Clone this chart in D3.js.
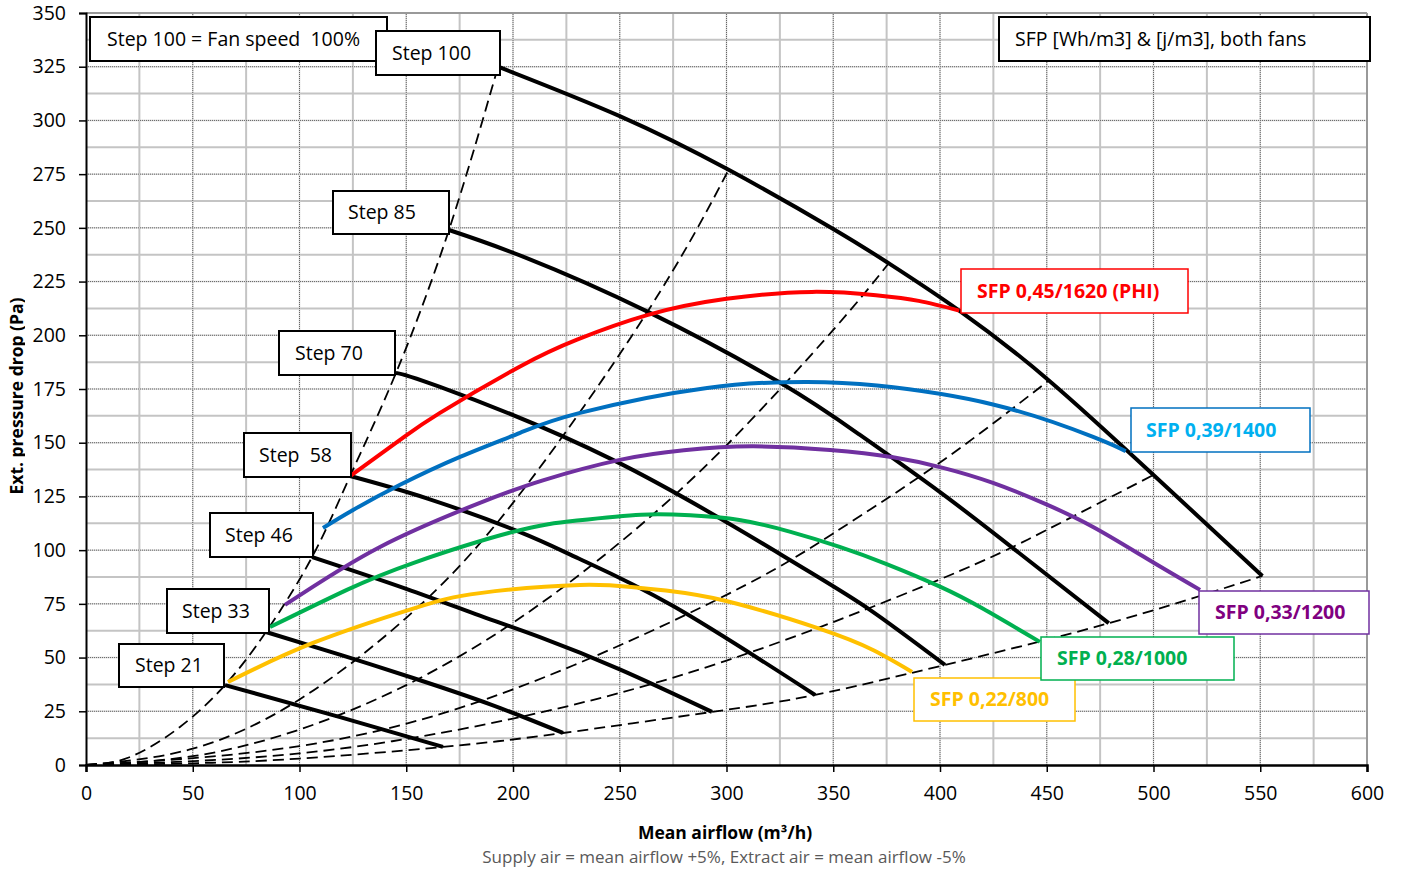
<!DOCTYPE html>
<html><head><meta charset="utf-8">
<script src="https://cdn.jsdelivr.net/npm/d3@7"></script>
<style>
html,body{margin:0;padding:0;background:#fff;}
svg{display:block;font-family:"Open Sans","Noto Sans",sans-serif;}
</style></head>
<body>
<svg id="chart" width="1401" height="872"></svg>
<script>
// ---------- data ----------
const xTicks = [0,50,100,150,200,250,300,350,400,450,500,550,600];
const yTicks = [0,25,50,75,100,125,150,175,200,225,250,275,300,325,350];

// fan curves (mean airflow m3/h, pressure Pa)
const step100 = [[193,325],[250,302],[301,277],[350,249.5],[376,233.5],[409,211.5],[451,179],[500,135],[551,88]];
const step85  = [[170,249],[205,236.5],[263,211],[325,178],[362,154],[400,127],[436,99.5],[479,66]];
const step70  = [[145.2,182.5],[165.8,176],[246.8,142],[329.7,95.4],[367.2,72.2],[402.3,46.6]];
const step58  = [[123.7,134.5],[160,124],[203,108.5],[231,96],[275,74],[341.5,32.6]];
const step46  = [[105.9,96.8],[150,82],[184.5,69.5],[212.6,59.5],[250,44.5],[293.2,24.7]];
const step33  = [[84.3,61.9],[120,51],[153.2,40.5],[190,28],[223.4,14.9]];
const step21  = [[65.1,37.2],[119,22.3],[167.2,8.4]];

// system (duct) curves, dashed
const sys1 = [[0,0],[20,3.5],[44,17.7],[65.1,37.2],[84.3,61.9],[105.9,96.8],[123.7,134.5],[145.2,182.5],[170,249],[193,325]];
const sys2 = [[0,0],[50,7.6],[100,30.5],[150,68.5],[200,122],[263,211],[301,277]];
const sys3 = [[0,0],[50,4.1],[100,16.5],[150,37.2],[200,66.2],[250,103.5],[300,148.8],[350,202.5],[376,233.5]];
const sys4 = [[0,0],[100,8.8],[200,35.2],[300,79.2],[350,107.8],[400,140.8],[451,179]];
const sys5 = [[0,0],[100,5.4],[200,21.6],[300,48.6],[400,86.4],[450,109.4],[500,135]];
const sys6 = [[0,0],[50,0.8],[100,3],[167.2,8.4],[223.4,14.9],[293.2,24.7],[341.5,32.6],[402.3,46.6],[479,66],[551,88]];

// SFP iso-lines
const sfp045 = [[123.7,134.5],[147.1,151.3],[165.8,163.9],[203.3,185.5],[230,198],[263.2,209.5],[300,217],[340,220.2],[370,218.6],[390,216],[409,211.5]];
const sfp039 = [[111,110.3],[125.1,118.7],[147.1,130.4],[175.2,143.4],[203.3,154.6],[231.4,163.9],[290.9,175.5],[337.7,178.3],[370.5,176.6],[424.8,167.8],[471.7,152.7],[487,146]];
const sfp033 = [[93.2,74.5],[137.7,101.5],[184.5,122],[214,132.5],[250,142],[280,146.5],[312,148.3],[348.5,146.6],[378,143.2],[401.4,138.3],[424.8,131.3],[448.2,122],[471.7,110.8],[497,96],[521.8,81.5]];
const sfp028 = [[86.2,64.2],[122.2,81.5],[153.2,94],[200,108.5],[230,113.8],[260,116.5],[283,116.2],[306,114],[330,108.5],[353,101.5],[375,93.5],[400,83],[420,72.8],[446.8,57.3]];
const sfp022 = [[66.5,38.6],[106.3,56.8],[153.2,72.8],[184.5,80],[231.4,83.8],[259.5,82.4],[293.7,77.7],[342.4,63.8],[368.6,53.5],[386.9,43.3]];

const fanCurves = [step100, step85, step70, step58, step46, step33, step21];
const sysCurves = [sys1, sys2, sys3, sys4, sys5, sys6];
const sfpCurves = [sfp022, sfp028, sfp033, sfp039, sfp045];
const sfpColors = ["#ffc000","#00b050","#7030a0","#0070c0","#ff0000"];

const stepLabels = ["Step 100","Step 85","Step 70","Step  58","Step 46","Step 33","Step 21"];
const sfpLabels = ["SFP 0,22/800","SFP 0,28/1000","SFP 0,33/1200","SFP 0,39/1400","SFP 0,45/1620 (PHI)"];

// ---------- layout ----------
const svg = d3.select("#chart");
const x = d3.scaleLinear().domain([0,600]).range([86,1367]);
const y = d3.scaleLinear().domain([0,350]).range([765,13]);

// grid
const g = svg.append("g");
const minorX = d3.range(25,600,50);
const minorY = d3.range(12.5,350,25);
g.selectAll(".mx").data(minorX).join("line")
  .attr("x1",d=>x(d)).attr("x2",d=>x(d)).attr("y1",y(0)).attr("y2",y(350))
  .attr("stroke","#c4c4c4").attr("stroke-width",2);
g.selectAll(".my").data(minorY).join("line")
  .attr("x1",x(0)).attr("x2",x(600)).attr("y1",d=>y(d)).attr("y2",d=>y(d))
  .attr("stroke","#c4c4c4").attr("stroke-width",2);
const majX = xTicks.filter(d=>d>0&&d<600), majY = yTicks.filter(d=>d>0&&d<350);
g.selectAll(".Mx").data(majX).join("line")
  .attr("x1",d=>x(d)).attr("x2",d=>x(d)).attr("y1",y(0)).attr("y2",y(350))
  .attr("stroke","#d8d8d8").attr("stroke-width",1.5);
g.selectAll(".Mx2").data(majX).join("line")
  .attr("x1",d=>x(d)).attr("x2",d=>x(d)).attr("y1",y(0)).attr("y2",y(350))
  .attr("stroke","#666").attr("stroke-width",1).attr("stroke-dasharray","1,1");
g.selectAll(".My").data(majY).join("line")
  .attr("x1",x(0)).attr("x2",x(600)).attr("y1",d=>y(d)).attr("y2",d=>y(d))
  .attr("stroke","#d8d8d8").attr("stroke-width",1.5);
g.selectAll(".My2").data(majY).join("line")
  .attr("x1",x(0)).attr("x2",x(600)).attr("y1",d=>y(d)).attr("y2",d=>y(d))
  .attr("stroke","#666").attr("stroke-width",1).attr("stroke-dasharray","1,1");

// frame
svg.append("line").attr("x1",x(0)).attr("x2",x(600)).attr("y1",y(350)).attr("y2",y(350)).attr("stroke","#999").attr("stroke-width",2);
svg.append("line").attr("x1",x(600)).attr("x2",x(600)).attr("y1",y(0)).attr("y2",y(350)).attr("stroke","#999").attr("stroke-width",2);

// axes
const ax = svg.append("g").attr("transform",`translate(0,${y(0)})`)
  .call(d3.axisBottom(x).tickValues(xTicks).tickSize(7).tickPadding(14).tickFormat(d3.format("d")));
const ay = svg.append("g").attr("transform",`translate(${x(0)},0)`)
  .call(d3.axisLeft(y).tickValues(yTicks).tickSize(7).tickPadding(13).tickFormat(d3.format("d")));
[ax,ay].forEach(a=>{
  a.selectAll("text").attr("font-size",19.5).attr("fill","#000").attr("font-family","'Open Sans',sans-serif");
  a.selectAll("line").attr("stroke","#000").attr("stroke-width",1.5);
});
ax.select(".domain").attr("stroke","#000").attr("stroke-width",2.5);
ay.select(".domain").attr("stroke","#000").attr("stroke-width",2);

// lines
const line = d3.line().x(d=>x(d[0])).y(d=>y(d[1])).curve(d3.curveNatural);
svg.append("g").selectAll("path").data(sysCurves).join("path")
  .attr("d",line).attr("fill","none").attr("stroke","#000").attr("stroke-width",1.8)
  .attr("stroke-dasharray","11,6");
svg.append("g").selectAll("path").data(fanCurves).join("path")
  .attr("d",line).attr("fill","none").attr("stroke","#000").attr("stroke-width",4);
svg.append("g").selectAll("path").data(sfpCurves).join("path")
  .attr("d",line).attr("fill","none").attr("stroke",(d,i)=>sfpColors[i]).attr("stroke-width",4);

// annotation boxes
function box(x0,y0,x1,y1,txt,tx,stroke,fill,bold,sw){
  svg.append("rect").attr("x",x0).attr("y",y0).attr("width",x1-x0).attr("height",y1-y0)
    .attr("fill","#fff").attr("stroke",stroke).attr("stroke-width",sw||2);
  svg.append("text").attr("x",tx).attr("y",(y0+y1)/2).attr("dy","0.35em")
    .attr("font-size",19.5).attr("font-weight",bold?"bold":"normal").attr("fill",fill)
    .style("white-space","pre").text(txt);
}
box(90,17,387,61,"Step 100 = Fan speed  100%",107,"#000","#000",false);
box(999,17,1370,61,"SFP [Wh/m3] & [j/m3], both fans",1015,"#000","#000",false);
const stepBoxes = [[376,31,500,75,392],[333,191,449,234,348],[279,331,395,375,295],[244,433,351,477,259],[210,513,313,557,225],[167,589,269,633,182],[119,644,224,687,135]];
stepBoxes.forEach((b,i)=>box(b[0],b[1],b[2],b[3],stepLabels[i],b[4],"#000","#000",false));
const sfpBoxes = [[914,678,1075,721,930,"#ffc000","#ffc000"],[1041,637,1234,680,1057,"#00b050","#00b050"],[1199,591,1369,634,1215,"#7030a0","#800080"],[1131,408,1310,452,1146,"#0070c0","#00b0f0"],[961,269,1188,313,977,"#ff0000","#ff0000"]];
sfpBoxes.forEach((b,i)=>box(b[0],b[1],b[2],b[3],sfpLabels[i],b[4],b[5],b[6],true,1.5));

// axis titles
svg.append("text").attr("x",725).attr("y",839).attr("text-anchor","middle")
  .attr("font-size",17.5).attr("font-weight","bold").text("Mean airflow (m³/h)");
svg.append("text").attr("x",724).attr("y",863).attr("text-anchor","middle")
  .attr("font-size",17).attr("fill","#595959").text("Supply air = mean airflow +5%, Extract air = mean airflow -5%");
svg.append("defs").append("clipPath").attr("id","yclip").append("rect").attr("x",0).attr("y",0).attr("width",25).attr("height",872);
svg.append("g").attr("clip-path","url(#yclip)")
  .append("text").attr("transform","translate(23,396) rotate(-90)").attr("text-anchor","middle")
  .attr("font-size",17.5).attr("font-weight","bold").text("Ext. pressure drop (Pa)");
</script>
</body></html>
